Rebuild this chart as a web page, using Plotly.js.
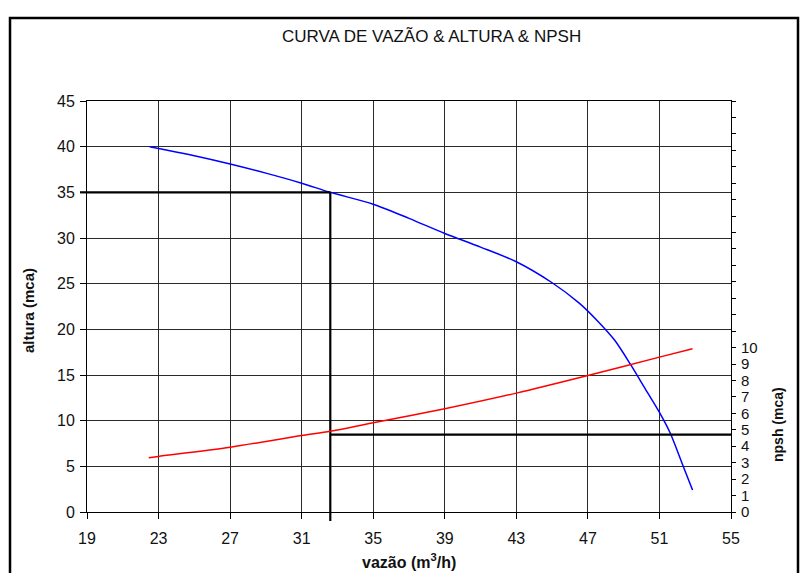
<!DOCTYPE html>
<html>
<head>
<meta charset="utf-8">
<script src="https://cdn.plot.ly/plotly-3.0.1.min.js"></script>
<style>
html,body{margin:0;padding:0;background:#fff;}
#chart{width:805px;height:573px;}
</style>
</head>
<body>
<div id="chart"></div>
<script>
// Head (altura) curve
const vazaoH = [22.5, 23, 25, 27, 29, 31, 32.6, 35, 37, 39, 41, 43, 45, 46.5, 47.5, 48.5, 49.4, 50.2, 51, 51.6, 52.3, 52.85];
const altura = [40, 39.8, 39.0, 38.1, 37.1, 36.0, 35.0, 33.7, 32.15, 30.5, 29.0, 27.4, 25.1, 22.9, 21.0, 18.8, 16.1, 13.5, 10.9, 8.65, 5.15, 2.4];
// NPSH curve
const vazaoN = [22.45, 23, 27, 31, 32.6, 35, 39, 43, 47, 51, 52.85];
const npsh = [3.30, 3.38, 3.94, 4.65, 4.91, 5.43, 6.28, 7.23, 8.30, 9.42, 9.93];
// Operating point
const opVazao = 32.6;
const opAltura = 35;
const opNpsh = 4.71;
// Axis ticks
const xTicks = [19, 23, 27, 31, 35, 39, 43, 47, 51, 55];
const yTicks = [0, 5, 10, 15, 20, 25, 30, 35, 40, 45];
const y2Ticks = Array.from({length: 26}, (_, i) => i);
const y2Labels = y2Ticks.map(v => v <= 10 ? String(v) : '');

const FONT = '"Liberation Sans", Arial, sans-serif';

const traces = [
  {x: vazaoH, y: altura, mode: 'lines', line: {color: '#0000ff', width: 1.5, shape: 'spline', smoothing: 0.8}, yaxis: 'y', hoverinfo: 'skip'},
  {x: vazaoN, y: npsh, mode: 'lines', line: {color: '#ff0000', width: 1.5, shape: 'spline', smoothing: 0.8}, yaxis: 'y2', hoverinfo: 'skip'},
  {x: [19, opVazao], y: [opAltura, opAltura], mode: 'lines', line: {color: '#000', width: 2.2}, yaxis: 'y', hoverinfo: 'skip'},
  {x: [opVazao, opVazao], y: [opAltura, 0], mode: 'lines', line: {color: '#000', width: 2.2}, yaxis: 'y', hoverinfo: 'skip'},
  {x: [opVazao, 55], y: [opNpsh, opNpsh], mode: 'lines', line: {color: '#000', width: 2.2}, yaxis: 'y2', hoverinfo: 'skip'}
];

const layout = {
  width: 805, height: 573,
  margin: {l: 87, r: 74, t: 101, b: 61},
  paper_bgcolor: '#fff', plot_bgcolor: '#fff',
  showlegend: false,
  font: {family: FONT, size: 16, color: '#000'},
  xaxis: {
    range: [19, 55], tickvals: xTicks, ticktext: xTicks.map(String),
    showgrid: true, gridcolor: '#2a2a2a', gridwidth: 1,
    showline: true, linecolor: '#000', linewidth: 1, mirror: true,
    ticks: 'outside', ticklen: 6, tickcolor: '#000', tickwidth: 1,
    ticklabelstandoff: 6,
    zeroline: false, tickfont: {family: FONT, size: 16, color: '#111'}
  },
  yaxis: {
    range: [0, 45], tickvals: yTicks, ticktext: yTicks.map(String),
    showgrid: true, gridcolor: '#2a2a2a', gridwidth: 1,
    showline: true, linecolor: '#000', linewidth: 1,
    ticks: 'outside', ticklen: 6, tickcolor: '#000', tickwidth: 1,
    ticklabelstandoff: 2,
    zeroline: false, tickfont: {family: FONT, size: 16, color: '#111'}
  },
  yaxis2: {
    overlaying: 'y', side: 'right', range: [0, 25],
    tickvals: y2Ticks, ticktext: y2Labels,
    showgrid: false, showline: true, linecolor: '#000', linewidth: 1,
    ticks: 'outside', ticklen: 4, tickcolor: '#000', tickwidth: 1,
    ticklabelstandoff: 2,
    zeroline: false, tickfont: {family: FONT, size: 15, color: '#111'}
  },
  annotations: [
    {text: 'CURVA DE VAZÃO & ALTURA & NPSH', xref: 'paper', yref: 'paper',
     x: (431 - 87) / 644, y: (512 - 37) / 411, showarrow: false,
     font: {family: FONT, size: 17, color: '#111'}, xanchor: 'center', yanchor: 'middle'},
    {text: '<b>altura (mca)</b>', xref: 'paper', yref: 'paper',
     x: (28 - 87) / 644, y: (512 - 310) / 411, showarrow: false, textangle: -90,
     font: {family: FONT, size: 15, color: '#111'}, xanchor: 'center', yanchor: 'middle'},
    {text: '<b>vazão (m<sup>3</sup>/h)</b>', xref: 'paper', yref: 'paper',
     x: (409 - 87) / 644, y: (512 - 561) / 411, showarrow: false,
     font: {family: FONT, size: 16, color: '#111'}, xanchor: 'center', yanchor: 'middle'},
    {text: '<b>npsh (mca)</b>', xref: 'paper', yref: 'paper',
     x: (778 - 87) / 644, y: (512 - 425) / 411, showarrow: false, textangle: -90,
     font: {family: FONT, size: 14, color: '#111'}, xanchor: 'center', yanchor: 'middle'}
  ],
  shapes: [
    {type: 'rect', xref: 'paper', yref: 'paper',
     x0: (10 - 87) / 644, x1: (798 - 87) / 644, y0: (512 - 600) / 411, y1: (512 - 18) / 411,
     line: {color: '#000', width: 2.5}, fillcolor: 'rgba(0,0,0,0)'},
    {type: 'line', xref: 'x', yref: 'paper', x0: opVazao, x1: opVazao, y0: 0, y1: -9 / 411,
     line: {color: '#000', width: 2.2}},
    {type: 'line', xref: 'paper', yref: 'y', x0: -7 / 644, x1: 0, y0: opAltura, y1: opAltura,
     line: {color: '#000', width: 2.2}}
  ]
};

Plotly.newPlot('chart', traces, layout, {staticPlot: true, displayModeBar: false});
</script>
</body>
</html>
